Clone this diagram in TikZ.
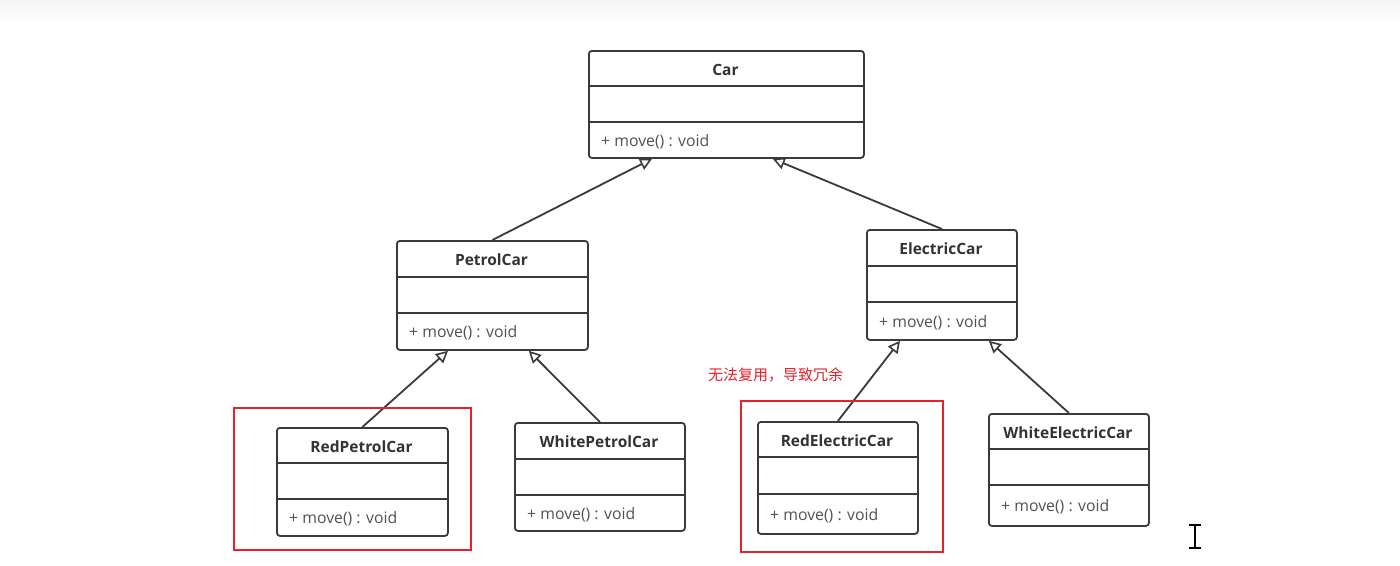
\documentclass[tikz,border=0pt]{standalone}
\usepackage{fontspec}
\setmainfont{Open Sans}
\newfontfamily\cjk{Noto Sans CJK SC}
\usetikzlibrary{arrows.meta}
\definecolor{umlline}{HTML}{3A3A3A}
\definecolor{umltext}{HTML}{333333}
\definecolor{redmark}{HTML}{E8202A}
\tikzset{
  classbox/.style={draw=umlline, line width=1.8pt, rounded corners=3pt, inner sep=0pt, fill=white},
  divider/.style={draw=umlline, line width=1.8pt},
  titletext/.style={font=\fontsize{15.5}{18}\selectfont\bfseries, text=umltext, inner sep=0pt},
  methodtext/.style={font=\fontsize{15.8}{18}\selectfont, text=umltext!85!white, inner sep=0pt, anchor=west},
  inherit/.style={draw=umlline, line width=1.8pt, -{Triangle[open, length=12pt, width=12pt, line width=1.6pt, fill=white]}},
  redframe/.style={draw=redmark, line width=1.8pt, inner sep=0pt},
}
% \umlclass{name}{x1}{y1}{x2}{y2}{div1}{div2}{title}
\newcommand{\umlclass}[8]{%
  \node[classbox, minimum width={#4-#2}, minimum height={#5-#3}, anchor=north west] (#1) at (#2,#3) {};
  \draw[divider] (#2,#6) -- (#4,#6);
  \draw[divider] (#2,#7) -- (#4,#7);
  \node[titletext] (#1-title) at ({(#2+#4)/2},{(#3+#6)/2+1.5}) {#8};
  \node[methodtext] (#1-method) at ({#2+13},{(#7+#5)/2+2}) {+ move() : void};
}
\begin{document}
\begin{tikzpicture}[x=1pt, y=-1pt]
\useasboundingbox (0,0) rectangle (1400,565);
\fill[white] (0,0) rectangle (1400,565);
\shade[top color={rgb,255:red,246;green,246;blue,246}, bottom color=white] (0,0) rectangle (1400,26);

\umlclass{car}{588}{50}{863}{157}{86}{122}{Car}
\umlclass{petrol}{396}{240}{587}{349}{277}{313}{PetrolCar}
\umlclass{electric}{866}{229}{1016}{339}{266}{302}{ElectricCar}
\umlclass{redpetrol}{276}{427}{447}{535}{463}{499}{RedPetrolCar}
\umlclass{whitepetrol}{514}{422}{684}{530}{459}{495}{WhitePetrolCar}
\umlclass{redelectric}{757}{421}{917}{533}{457}{494}{RedElectricCar}
\umlclass{whiteelectric}{988}{413}{1148}{525}{449}{485}{WhiteElectricCar}

\draw[inherit] (petrol.north) -- ([xshift=64pt]car.south west);
\draw[inherit] (electric.north) -- ([xshift=-92pt]car.south east);
\draw[inherit] (redpetrol.north) -- ([xshift=52pt]petrol.south west);
\draw[inherit] (whitepetrol.north) -- ([xshift=-60pt]petrol.south east);
\draw[inherit] (redelectric.north) -- ([xshift=34pt]electric.south west);
\draw[inherit] (whiteelectric.north) -- ([xshift=-29pt]electric.south east);

\node[redframe, minimum width=237pt, minimum height=142pt, anchor=north west] (frame1) at (233,407) {};
\node[redframe, minimum width=202pt, minimum height=151pt, anchor=north west] (frame2) at (740,400) {};
\node[font=\cjk\fontsize{15}{18}\selectfont, text=redmark, anchor=west, inner sep=0pt] (note) at (708,375) {无法复用，导致冗余};

% text cursor
\draw[black, line width=1.5pt] (1195,525) -- (1195,548);
\draw[black, line width=1.5pt] (1189,525) -- (1201,525);
\draw[black, line width=1.5pt] (1189,548) -- (1201,548);
\end{tikzpicture}
\end{document}
